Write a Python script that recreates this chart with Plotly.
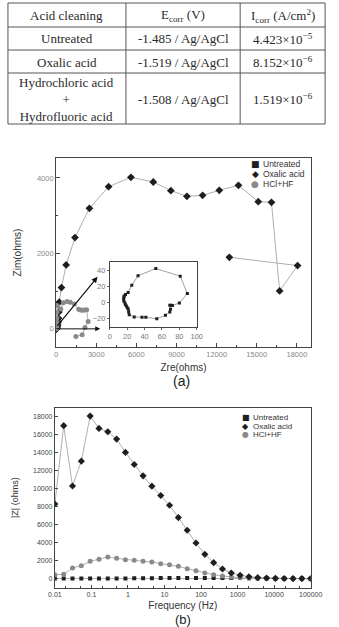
import plotly.graph_objects as go

# ---------------- Table data ----------------
table_header = ["Acid cleaning", "E<sub>corr</sub> (V)", "I<sub>corr</sub> (A/cm<sup>2</sup>)"]
acid_names = ["Untreated", "Oxalic acid", "Hydrochloric acid<br>+<br>Hydrofluoric acid"]
e_corr = ["-1.485 / Ag/AgCl", "-1.519 / Ag/AgCl", "-1.508 / Ag/AgCl"]
i_corr = ["4.423×10<sup>−5</sup>", "8.152×10<sup>−6</sup>", "1.519×10<sup>−6</sup>"]

# ---------------- (a) Nyquist data ----------------
oxalic_zre = [10, 15, 20, 30, 40, 60, 90, 120, 150, 180, 210, 233, 400, 752, 1410, 2490, 3925,
              5593, 7262, 8578, 9776, 10951, 12197, 13630, 15110, 16098, 16708, 18048, 12949]
oxalic_zim = [0, 1, 3, 8, 15, 30, 60, 110, 180, 280, 450, 707, 1095, 1695, 2420, 3196, 3770,
              4018, 3894, 3665, 3514, 3541, 3673, 3806, 3373, 3355, 1007, 1678, 1898]

hcl_zre = [10, 12, 15, 20, 25, 30, 35, 40, 45, 50, 55, 60, 90, 350, 540, 820, 1060, 1360,
           1690, 1830, 1980, 2130, 2280, 2397, 2160, 1950, 1480]
hcl_zim = [0, 2, 4, 8, 15, 25, 40, 70, 100, 175, 290, 440, 610, 530, 690, 724, 707, 662,
           521, 500, 495, 500, 505, 194, 35, -159, -203]

untreated_zre = [17.3, 18, 19, 20.1, 21.2, 21.6, 22.3, 28, 37, 41.4, 54, 64, 69, 69.8, 69,
                 70.5, 72, 80, 89.2, 81, 52.9, 32.4, 25.2, 21, 18, 16.5, 16.2, 15.8, 16.2]
untreated_zim = [-0.4, -2.5, -4.1, -6.2, -8.2, -11.5, -14.8, -17.7, -18.1, -18.1, -19.8, -15.7,
                 -11.5, -8.2, -3.3, -3.3, -3.7, -0.4, 11.1, 32.6, 42, 33, 21.4, 12.4, 9.9,
                 8.2, 7, 4.1, 1.6]

# ---------------- (b) Bode data ----------------
frequency = [0.01, 0.01743, 0.03039, 0.05298, 0.09237, 0.1610, 0.2807, 0.4894, 0.8532, 1.487,
             2.593, 4.520, 7.880, 13.74, 23.95, 41.75, 72.79, 126.9, 221.2, 385.7, 672.3,
             1172, 2044, 3562, 6211, 10830, 18870, 32900, 57360, 100000]
bode_untreated = [16, 17, 17, 16, 17, 19, 22, 31, 35, 40, 46, 56, 66, 74, 82, 86, 90, 88, 70,
                  72, 71, 70, 60, 44, 39, 30, 24, 21, 18, 17]
bode_oxalic = [8300, 17000, 10300, 13060, 18070, 16700, 16330, 15510, 14030, 12690, 11430,
               10280, 9240, 8160, 6790, 5380, 3970, 2710, 1780, 1080, 630, 370, 220, 110, 74,
               40, 25, 15, 10, 8]
bode_hcl = [445, 480, 1190, 1450, 1930, 2150, 2410, 2260, 2115, 2040, 1930, 1855, 1670, 1560,
            1370, 1110, 890, 630, 445, 300, 186, 110, 74, 40, 25, 15, 10, 8, 5, 3]
freq_tickvals = [0.01, 0.1, 1, 10, 100, 1000, 10000, 100000]
freq_ticktext = ["0.01", "0.1", "1", "10", "100", "1000", "10000", "100000"]

legend_labels = ["Untreated", "Oxalic acid", "HCl+HF"]

# ---------------- styles ----------------
W, H = 339, 627
SANS = "Liberation Sans, Arial, sans-serif"
SERIF = "Liberation Serif, Times New Roman, serif"
LINE = "#9a9a9a"
DARK = "#1e1e1e"
GRAY = "#8a8a8a"
glyphs = ["\u25A0", "\u25C6", "\u25CF"]
colors = [DARK, DARK, GRAY]


def px(x):
    return x / W


def py(y):
    return 1 - y / H


fig = go.Figure()

# (a) main Nyquist
fig.add_trace(go.Scatter(x=untreated_zre, y=untreated_zim, mode="lines+markers",
                         line=dict(color=LINE, width=0.7),
                         marker=dict(symbol="square", size=3, color=DARK),
                         xaxis="x", yaxis="y", showlegend=False))
fig.add_trace(go.Scatter(x=oxalic_zre, y=oxalic_zim, mode="lines+markers",
                         line=dict(color=LINE, width=0.8),
                         marker=dict(symbol="diamond", size=6, color=DARK),
                         xaxis="x", yaxis="y", showlegend=False))
fig.add_trace(go.Scatter(x=hcl_zre, y=hcl_zim, mode="lines+markers",
                         line=dict(color=LINE, width=0.8),
                         marker=dict(symbol="circle", size=5, color=GRAY),
                         xaxis="x", yaxis="y", showlegend=False))

# inset
fig.add_trace(go.Scatter(x=untreated_zre, y=untreated_zim, mode="lines+markers",
                         line=dict(color="#777", width=0.7),
                         marker=dict(symbol="square", size=3, color=DARK),
                         xaxis="x2", yaxis="y2", showlegend=False))

# (b) Bode
fig.add_trace(go.Scatter(x=frequency, y=bode_untreated, mode="lines+markers",
                         line=dict(color=LINE, width=0.8),
                         marker=dict(symbol="square", size=4, color=DARK),
                         xaxis="x3", yaxis="y3", showlegend=False))
fig.add_trace(go.Scatter(x=frequency, y=bode_hcl, mode="lines+markers",
                         line=dict(color=LINE, width=0.8),
                         marker=dict(symbol="circle", size=5, color=GRAY),
                         xaxis="x3", yaxis="y3", showlegend=False))
fig.add_trace(go.Scatter(x=frequency, y=bode_oxalic, mode="lines+markers",
                         line=dict(color=LINE, width=0.8),
                         marker=dict(symbol="diamond", size=5.5, color=DARK),
                         xaxis="x3", yaxis="y3", showlegend=False))

frame = dict(showline=True, mirror=True, linecolor="#444", linewidth=1,
             showgrid=False, zeroline=False)

fig.update_layout(
    width=W, height=H, margin=dict(l=0, r=0, t=0, b=0),
    paper_bgcolor="white", plot_bgcolor="white",
    font=dict(family=SANS, color="#333"),
    xaxis=dict(domain=[0.1534, 0.9499], anchor="y", range=[0, 19050],
               tick0=0, dtick=3000, tickformat="d", ticks="inside", ticklen=4, tickcolor="#444",
               minor=dict(dtick=1500, ticks="inside", ticklen=2, tickcolor="#444"),
               tickfont=dict(size=7.5, color="#888"),
               title=dict(text="Zre(ohms)", font=dict(size=10, color="#333"), standoff=6),
               **frame),
    yaxis=dict(domain=[0.4466, 0.748], anchor="x", range=[-480, 4530],
               tick0=0, dtick=2000, tickformat="d", ticks="inside", ticklen=4, tickcolor="#444",
               minor=dict(dtick=1000, ticks="inside", ticklen=2, tickcolor="#444"),
               tickfont=dict(size=7.5, color="#888"),
               title=dict(text="Zim(ohms)", font=dict(size=10, color="#333"), standoff=13),
               **frame),
    xaxis2=dict(domain=[0.3215, 0.5929], anchor="y2", range=[0, 100], dtick=20,
                ticks="outside", ticklen=2, tickcolor="#666",
                tickfont=dict(size=7.5, color="#777"), **frame),
    yaxis2=dict(domain=[0.4785, 0.5821], anchor="x2", range=[-30, 50], dtick=20,
                ticks="outside", ticklen=2, tickcolor="#666",
                tickfont=dict(size=7.5, color="#777"), **frame),
    xaxis3=dict(domain=[0.1496, 0.949], anchor="y3", type="log", range=[-2, 5],
                tickvals=freq_tickvals, ticktext=freq_ticktext,
                ticks="inside", ticklen=3, tickcolor="#444",
                minor=dict(ticks="inside", ticklen=2, tickcolor="#444"),
                tickfont=dict(size=7, color="#444"),
                title=dict(text="Frequency (Hz)", font=dict(size=10, color="#333"), standoff=4),
                **frame),
    yaxis3=dict(domain=[0.0627, 0.3498], anchor="x3", range=[-1000, 19000],
                tick0=0, dtick=2000, tickformat="d", ticks="inside", ticklen=3, tickcolor="#444",
                tickfont=dict(size=7, color="#444"),
                title=dict(text="|Z| (ohms)", font=dict(size=9, color="#333"), standoff=12),
                **frame),
)

annotations = [
    dict(x=3100, y=1380, ax=0, ay=40, xref="x", yref="y", axref="x", ayref="y",
         showarrow=True, arrowhead=2, arrowsize=1, arrowwidth=1.2, arrowcolor="#111", text=""),
    dict(x=3300, y=0, ax=0, ay=0, xref="x", yref="y", axref="x", ayref="y",
         showarrow=True, arrowhead=2, arrowsize=1, arrowwidth=1.0, arrowcolor="#111", text=""),
    dict(x=px(185), y=py(381), xref="paper", yref="paper", text="(a)", yanchor="middle",
         xanchor="center", showarrow=False, font=dict(size=14, color="#222")),
    dict(x=px(186), y=py(619), xref="paper", yref="paper", text="(b)", yanchor="middle",
         xanchor="center", showarrow=False, font=dict(size=13, color="#222")),
]

# manual compact legends
leg_a_rows = [164, 174, 184]
leg_b_rows = [417, 426, 434]
for lbl, g, c, ya, yb in zip(legend_labels, glyphs, colors, leg_a_rows, leg_b_rows):
    annotations.append(dict(x=px(263), y=py(ya), xref="paper", yref="paper", text=g,
                            xanchor="center", yanchor="middle", showarrow=False,
                            font=dict(size=9, color=c, family="DejaVu Sans")))
    annotations.append(dict(x=px(269), y=py(ya), xref="paper", yref="paper", text=lbl,
                            xanchor="left", yanchor="middle", showarrow=False,
                            font=dict(size=8.5, color="#333")))
    annotations.append(dict(x=px(253), y=py(yb), xref="paper", yref="paper", text=g,
                            xanchor="center", yanchor="middle", showarrow=False,
                            font=dict(size=8, color=c, family="DejaVu Sans")))
    annotations.append(dict(x=px(258), y=py(yb), xref="paper", yref="paper", text=lbl,
                            xanchor="left", yanchor="middle", showarrow=False,
                            font=dict(size=8, color="#333")))

# ---------------- table drawn with shapes + text ----------------
col_edges = [1, 126, 247, 337]
row_edges = [3, 27, 50, 73, 124]
shapes = []
for xe in col_edges:
    shapes.append(dict(type="line", xref="paper", yref="paper", x0=px(xe), x1=px(xe),
                       y0=py(row_edges[0]), y1=py(row_edges[-1]),
                       line=dict(color="#555", width=1)))
for ye in row_edges:
    shapes.append(dict(type="line", xref="paper", yref="paper", x0=px(col_edges[0]),
                       x1=px(col_edges[-1]), y0=py(ye), y1=py(ye),
                       line=dict(color="#555", width=1)))

table_rows = [table_header] + [list(r) for r in zip(acid_names, e_corr, i_corr)]
for r, row in enumerate(table_rows):
    yc = (row_edges[r] + row_edges[r + 1]) / 2
    for c, txt in enumerate(row):
        xc = (col_edges[c] + col_edges[c + 1]) / 2
        annotations.append(dict(x=px(xc), y=py(yc + 0.5), xref="paper", yref="paper",
                                text=txt, showarrow=False, xanchor="center",
                                yanchor="middle", align="center",
                                font=dict(family=SERIF, size=13, color="#2a2a2a")))

fig.update_layout(annotations=annotations, shapes=shapes)
fig.write_html("out.html")
